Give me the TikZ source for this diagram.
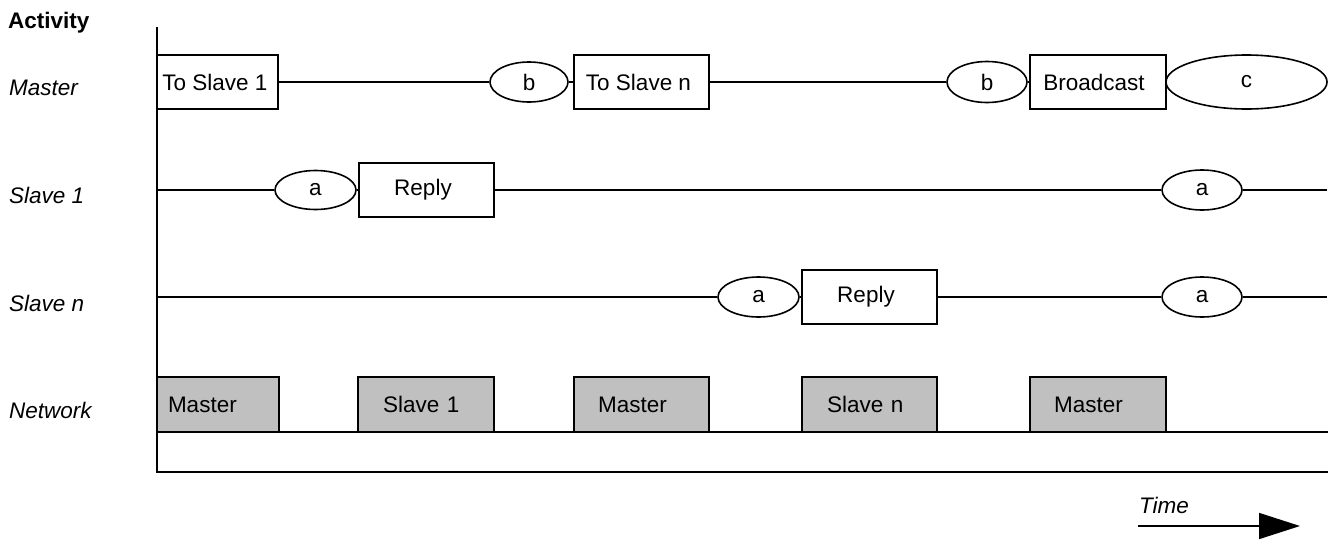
\documentclass[tikz,border=0pt]{standalone}
\usepackage{fontspec}
\setmainfont{Liberation Sans}
\usetikzlibrary{shapes.geometric,arrows.meta}
\definecolor{netgray}{HTML}{C0C0C0}
\begin{document}
\begin{tikzpicture}[x=1pt,y=-1pt,
  every node/.style={font=\fontsize{22.5}{27}\selectfont},
  line/.style={line width=1.6pt},
  lanelabel/.style={anchor=west, font=\fontsize{22.5}{27}\selectfont\itshape, inner sep=0pt},
  actbox/.style={draw, line width=1.6pt, rectangle, minimum height=54pt, inner sep=0pt, fill=white},
  evt/.style={draw, line width=1.6pt, ellipse, inner sep=0pt, fill=white},
  netbox/.style={draw, line width=1.6pt, fill=netgray, minimum height=55pt, inner ysep=0pt, align=left},
]
\useasboundingbox (0,0) rectangle (1330,541);

% lane labels
\node[anchor=west, inner sep=0pt, font=\fontsize{22.5}{27}\selectfont\bfseries] (act) at (8,22.5) {Activity};
\node[lanelabel] (lm) at (9,88) {Master};
\node[lanelabel] (ls1) at (9,195) {Slave 1};
\node[lanelabel] (lsn) at (9,303) {Slave n};
\node[lanelabel] (lnet) at (9,410) {Network};

% axes coordinates
\coordinate (axTop) at (157,27);
\coordinate (axBot) at (157,472);
\coordinate (botR) at (1328,472);

% Master row
\node[actbox, minimum width=121pt] (m1) at (217.5,82) {\kern-5pt To Slave 1};
\node[evt, minimum width=78pt, minimum height=40pt] (mb1) at (529,82) {b};
\node[actbox, minimum width=135pt] (m2) at (641.5,82) {\kern-6pt To Slave n};
\node[evt, minimum width=80pt, minimum height=41pt] (mb2) at (987,82) {b};
\node[actbox, minimum width=136pt] (m3) at (1098,82) {\kern-8pt Broadcast};
\node[evt, minimum width=161pt, minimum height=54pt] (mc) at (1246.5,82) {c};
\draw[line] (m1) -- (mb1);
\draw[line] (mb1) -- (m2);
\draw[line] (m2) -- (mb2);
\draw[line] (mb2) -- (m3);

% Slave 1 row
\coordinate (s1start) at (157,190);
\coordinate (s1end) at (1327,190);
\node[evt, minimum width=81pt, minimum height=39pt] (s1a) at (315.5,190) {a};
\node[actbox, minimum width=135pt] (s1r) at (426.5,190) {\kern-7pt Reply};
\node[evt, minimum width=80pt, minimum height=40pt] (s1a2) at (1202,190) {a};
\draw[line] (s1start) -- (s1a);
\draw[line] (s1a) -- (s1r);
\draw[line] (s1r) -- (s1a2);
\draw[line] (s1a2) -- (s1end);

% Slave n row
\coordinate (snstart) at (157,297);
\coordinate (snend) at (1327,297);
\node[evt, minimum width=81pt, minimum height=40pt] (sna) at (758.5,297) {a};
\node[actbox, minimum width=135pt] (snr) at (869.5,297) {\kern-7pt Reply};
\node[evt, minimum width=80pt, minimum height=40pt] (sna2) at (1202,297) {a};
\draw[line] (snstart) -- (sna);
\draw[line] (sna) -- (snr);
\draw[line] (snr) -- (sna2);
\draw[line] (sna2) -- (snend);

% Network row
\coordinate (netL) at (157,432);
\coordinate (netR) at (1328,432);
\draw[line] (netL) -- (netR);
\node[netbox, inner xsep=11pt, text width=100pt] (n1) at (218,404.5) {Master};
\node[netbox, inner xsep=25pt, text width=86pt] (n2) at (426,404.5) {Slave 1};
\node[netbox, inner xsep=24pt, text width=87pt] (n3) at (641.5,404.5) {Master};
\node[netbox, inner xsep=25pt, text width=85pt] (n4) at (869.5,404.5) {Slave n};
\node[netbox, inner xsep=24pt, text width=88pt] (n5) at (1098,404.5) {Master};

% axes
\draw[line] (axTop) -- (axBot) -- (botR);

% time arrow
\node[font=\fontsize{22.5}{27}\selectfont\itshape, inner sep=0pt] (time) at (1164,505) {Time};
\coordinate (tA) at (1138,526);
\coordinate (tB) at (1300,526);
\draw[line, -{Triangle[length=41pt,width=26pt]}] (tA) -- (tB);
\end{tikzpicture}
\end{document}
